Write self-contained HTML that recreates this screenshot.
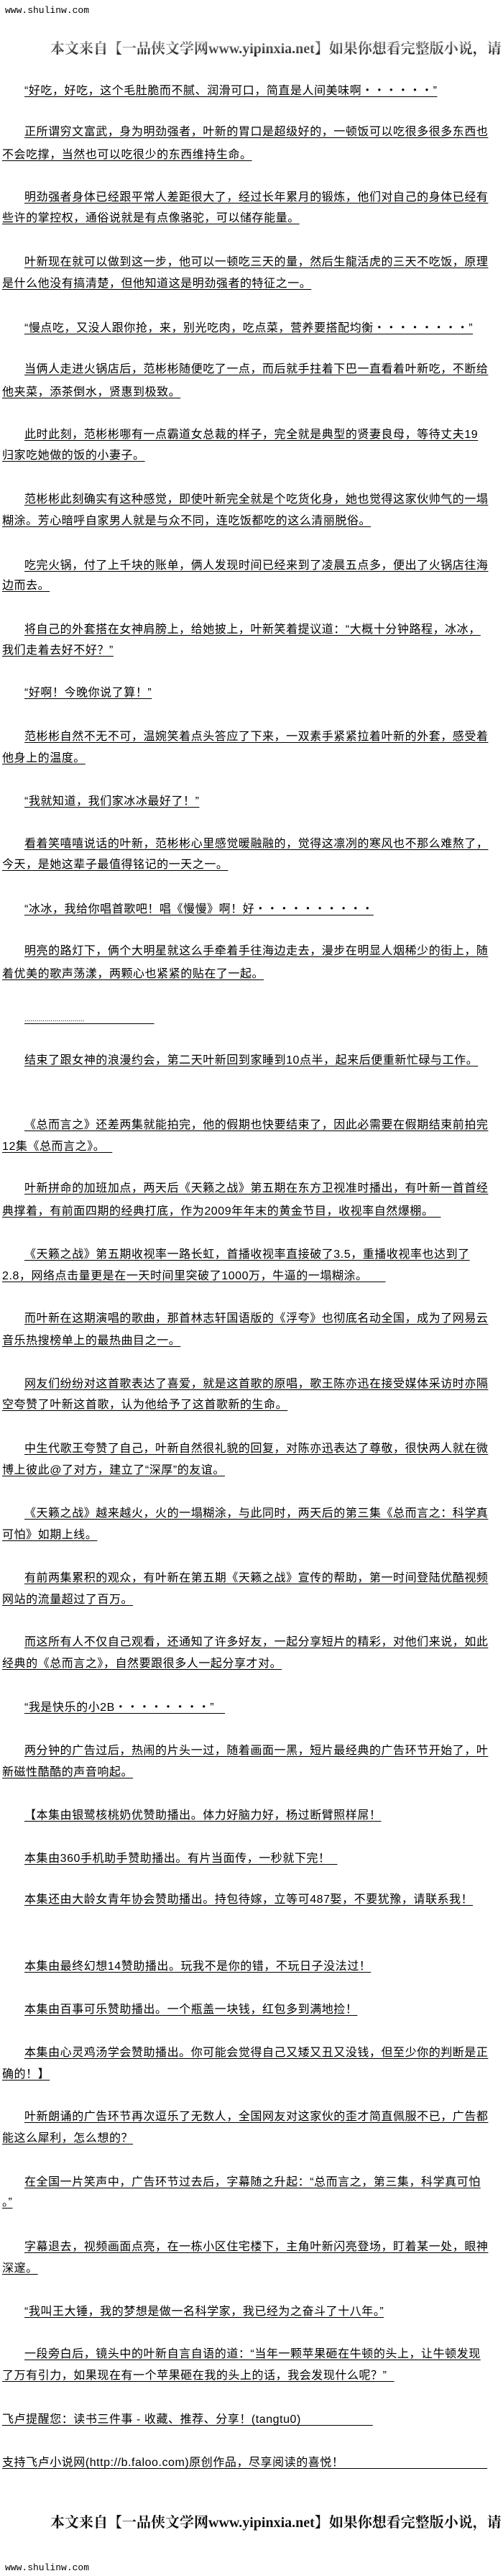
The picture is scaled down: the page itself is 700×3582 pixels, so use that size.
<!DOCTYPE html>
<html><head><meta charset="utf-8">
<style>
html,body{margin:0;padding:0;background:#fff;}
body{width:700px;height:3582px;position:relative;overflow:hidden;font-family:"Liberation Sans","Noto Sans CJK SC",sans-serif;color:#000;}
.l{position:absolute;left:34px;font-size:16px;line-height:16px;letter-spacing:0.55px;white-space:nowrap;text-decoration:underline;text-underline-offset:3px;text-decoration-thickness:1px;}
.c{left:3px;}
.w{position:absolute;left:7px;font-family:"Liberation Mono",monospace;font-size:13px;line-height:14px;}
.b{position:absolute;left:70px;font-family:"Liberation Serif","Noto Serif CJK SC",serif;font-size:20px;line-height:22px;font-weight:bold;white-space:nowrap;background:linear-gradient(#888,#555 50%,#111);-webkit-background-clip:text;background-clip:text;color:transparent;}
</style></head><body>
<div class="w" style="top:8px">www.shulinw.com</div>
<div class="b" style="top:57px">本文来自【一品侠文学网www.yipinxia.net】如果你想看完整版小说，请</div>

<div class="l" style="top:119px">“好吃，好吃，这个毛肚脆而不腻、润滑可口，简直是人间美味啊・・・・・・”</div>
<div class="l" style="top:176px">正所谓穷文富武，身为明劲强者，叶新的胃口是超级好的，一顿饭可以吃很多很多东西也</div>
<div class="l c" style="top:208px">不会吃撑，当然也可以吃很少的东西维持生命。</div>
<div class="l" style="top:267px">明劲强者身体已经跟平常人差距很大了，经过长年累月的锻炼，他们对自己的身体已经有</div>
<div class="l c" style="top:296px">些许的掌控权，通俗说就是有点像骆驼，可以储存能量。</div>
<div class="l" style="top:357px">叶新现在就可以做到这一步，他可以一顿吃三天的量，然后生龍活虎的三天不吃饭，原理</div>
<div class="l c" style="top:387px">是什么他没有搞清楚，但他知道这是明劲强者的特征之一。</div>
<div class="l" style="top:449px">“慢点吃，又没人跟你抢，来，别光吃肉，吃点菜，营养要搭配均衡・・・・・・・・”</div>
<div class="l" style="top:506px">当俩人走进火锅店后，范彬彬随便吃了一点，而后就手拄着下巴一直看着叶新吃，不断给</div>
<div class="l c" style="top:538px">他夹菜，添茶倒水，贤惠到极致。</div>
<div class="l" style="top:597px">此时此刻，范彬彬哪有一点霸道女总裁的样子，完全就是典型的贤妻良母，等待丈夫19</div>
<div class="l c" style="top:626px">归家吃她做的饭的小妻子。</div>
<div class="l" style="top:687px">范彬彬此刻确实有这种感觉，即使叶新完全就是个吃货化身，她也觉得这家伙帅气的一塌</div>
<div class="l c" style="top:717px">糊涂。芳心暗呼自家男人就是与众不同，连吃饭都吃的这么清丽脱俗。</div>
<div class="l" style="top:779px">吃完火锅，付了上千块的账单，俩人发现时间已经来到了凌晨五点多，便出了火锅店往海</div>
<div class="l c" style="top:807px">边而去。</div>
<div class="l" style="top:868px">将自己的外套搭在女神肩膀上，给她披上，叶新笑着提议道：“大概十分钟路程，冰冰，</div>
<div class="l c" style="top:897px">我们走着去好不好？”</div>
<div class="l" style="top:956px">“好啊！今晚你说了算！”</div>
<div class="l" style="top:1017px">范彬彬自然不无不可，温婉笑着点头答应了下来，一双素手紧紧拉着叶新的外套，感受着</div>
<div class="l c" style="top:1047px">他身上的温度。</div>
<div class="l" style="top:1107px">“我就知道，我们家冰冰最好了！”</div>
<div class="l" style="top:1166px">看着笑嘻嘻说话的叶新，范彬彬心里感觉暖融融的，觉得这凛冽的寒风也不那么难熬了，</div>
<div class="l c" style="top:1195px">今天，是她这辈子最值得铭记的一天之一。</div>
<div class="l" style="top:1257px">“冰冰，我给你唱首歌吧！唱《慢慢》啊！好・・・・・・・・・・</div>
<div class="l" style="top:1315px">明亮的路灯下，俩个大明星就这么手牵着手往海边走去，漫步在明显人烟稀少的街上，随</div>
<div class="l c" style="top:1347px">着优美的歌声荡漾，两颗心也紧紧的贴在了一起。</div>
<div class="l" style="top:1410px;font-size:10px;letter-spacing:0">..............................&nbsp;&nbsp;&nbsp;&nbsp;&nbsp;&nbsp;&nbsp;&nbsp;&nbsp;&nbsp;&nbsp;&nbsp;&nbsp;&nbsp;&nbsp;&nbsp;&nbsp;&nbsp;&nbsp;&nbsp;&nbsp;&nbsp;&nbsp;&nbsp;&nbsp;&nbsp;&nbsp;&nbsp;&nbsp;&nbsp;&nbsp;&nbsp;&nbsp;&nbsp;&nbsp;</div>
<div class="l" style="top:1467px">结束了跟女神的浪漫约会，第二天叶新回到家睡到10点半，起来后便重新忙碌与工作。</div>
<div class="l" style="top:1557px">《总而言之》还差两集就能拍完，他的假期也快要结束了，因此必需要在假期结束前拍完</div>
<div class="l c" style="top:1587px">12集《总而言之》。&nbsp;&nbsp;</div>
<div class="l" style="top:1645px">叶新拼命的加班加点，两天后《天籁之战》第五期在东方卫视准时播出，有叶新一首首经</div>
<div class="l c" style="top:1677px">典撑着，有前面四期的经典打底，作为2009年年末的黄金节目，收视率自然爆棚。&nbsp;&nbsp;</div>
<div class="l" style="top:1737px">《天籁之战》第五期收视率一路长虹，首播收视率直接破了3.5，重播收视率也达到了</div>
<div class="l c" style="top:1767px">2.8，网络点击量更是在一天时间里突破了1000万，牛逼的一塌糊涂。&nbsp;&nbsp;&nbsp;&nbsp;&nbsp;</div>
<div class="l" style="top:1826px">而叶新在这期演唱的歌曲，那首林志轩国语版的《浮夸》也彻底名动全国，成为了网易云</div>
<div class="l c" style="top:1857px">音乐热搜榜单上的最热曲目之一。</div>
<div class="l" style="top:1917px">网友们纷纷对这首歌表达了喜爱，就是这首歌的原唱，歌王陈亦迅在接受媒体采访时亦隔</div>
<div class="l c" style="top:1946px">空夸赞了叶新这首歌，认为他给予了这首歌新的生命。</div>
<div class="l" style="top:2007px">中生代歌王夸赞了自己，叶新自然很礼貌的回复，对陈亦迅表达了尊敬，很快两人就在微</div>
<div class="l c" style="top:2037px">博上彼此@了对方，建立了“深厚”的友谊。</div>
<div class="l" style="top:2097px">《天籁之战》越来越火，火的一塌糊涂，与此同时，两天后的第三集《总而言之：科学真</div>
<div class="l c" style="top:2127px">可怕》如期上线。</div>
<div class="l" style="top:2187px">有前两集累积的观众，有叶新在第五期《天籁之战》宣传的帮助，第一时间登陆优酷视频</div>
<div class="l c" style="top:2217px">网站的流量超过了百万。</div>
<div class="l" style="top:2276px">而这所有人不仅自己观看，还通知了许多好友，一起分享短片的精彩，对他们来说，如此</div>
<div class="l c" style="top:2306px">经典的《总而言之》，自然要跟很多人一起分享才对。</div>
<div class="l" style="top:2367px">“我是快乐的小2B・・・・・・・・”&nbsp;&nbsp;&nbsp;</div>
<div class="l" style="top:2427px">两分钟的广告过后，热闹的片头一过，随着画面一黑，短片最经典的广告环节开始了，叶</div>
<div class="l c" style="top:2457px">新磁性酷酷的声音响起。</div>
<div class="l" style="top:2517px">【本集由银鹭核桃奶优赞助播出。体力好脑力好，杨过断臂照样屌！</div>
<div class="l" style="top:2577px">本集由360手机助手赞助播出。有片当面传，一秒就下完！&nbsp;&nbsp;</div>
<div class="l" style="top:2634px">本集还由大龄女青年协会赞助播出。持包待嫁，立等可487娶，不要犹豫，请联系我！</div>
<div class="l" style="top:2727px">本集由最终幻想14赞助播出。玩我不是你的错，不玩日子没法过！</div>
<div class="l" style="top:2787px">本集由百事可乐赞助播出。一个瓶盖一块钱，红包多到满地捡！</div>
<div class="l" style="top:2847px">本集由心灵鸡汤学会赞助播出。你可能会觉得自己又矮又丑又没钱，但至少你的判断是正</div>
<div class="l c" style="top:2877px">确的！】</div>
<div class="l" style="top:2936px">叶新朗诵的广告环节再次逗乐了无数人，全国网友对这家伙的歪才简直佩服不已，广告都</div>
<div class="l c" style="top:2966px">能这么犀利，怎么想的？</div>
<div class="l" style="top:3027px">在全国一片笑声中，广告环节过去后，字幕随之升起：“总而言之，第三集，科学真可怕</div>
<div class="l c" style="top:3055px">。”</div>
<div class="l" style="top:3117px">字幕退去，视频画面点亮，在一栋小区住宅楼下，主角叶新闪亮登场，盯着某一处，眼神</div>
<div class="l c" style="top:3147px">深邃。</div>
<div class="l" style="top:3207px">“我叫王大锤，我的梦想是做一名科学家，我已经为之奋斗了十八年。”</div>
<div class="l" style="top:3266px">一段旁白后，镜头中的叶新自言自语的道：“当年一颗苹果砸在牛顿的头上，让牛顿发现</div>
<div class="l c" style="top:3296px">了万有引力，如果现在有一个苹果砸在我的头上的话，我会发现什么呢？”&nbsp;&nbsp;</div>
<div class="l c" style="top:3357px">飞卢提醒您：读书三件事 - 收藏、推荐、分享！(tangtu0)&nbsp;&nbsp;&nbsp;&nbsp;&nbsp;&nbsp;&nbsp;&nbsp;&nbsp;&nbsp;&nbsp;&nbsp;&nbsp;&nbsp;&nbsp;&nbsp;&nbsp;&nbsp;&nbsp;&nbsp;</div>
<div class="l c" style="top:3417px">支持飞卢小说网(http://b.faloo.com)原创作品，尽享阅读的喜悦！&nbsp;&nbsp;&nbsp;&nbsp;&nbsp;&nbsp;&nbsp;&nbsp;&nbsp;&nbsp;&nbsp;&nbsp;&nbsp;&nbsp;&nbsp;&nbsp;&nbsp;&nbsp;&nbsp;&nbsp;&nbsp;&nbsp;&nbsp;&nbsp;&nbsp;&nbsp;&nbsp;&nbsp;&nbsp;&nbsp;&nbsp;&nbsp;&nbsp;&nbsp;&nbsp;&nbsp;&nbsp;&nbsp;&nbsp;&nbsp;</div>

<div class="b" style="top:3497px;background:none;color:#111">本文来自【一品侠文学网www.yipinxia.net】如果你想看完整版小说，请</div>
<div class="w" style="top:3564px">www.shulinw.com</div>
</body></html>
